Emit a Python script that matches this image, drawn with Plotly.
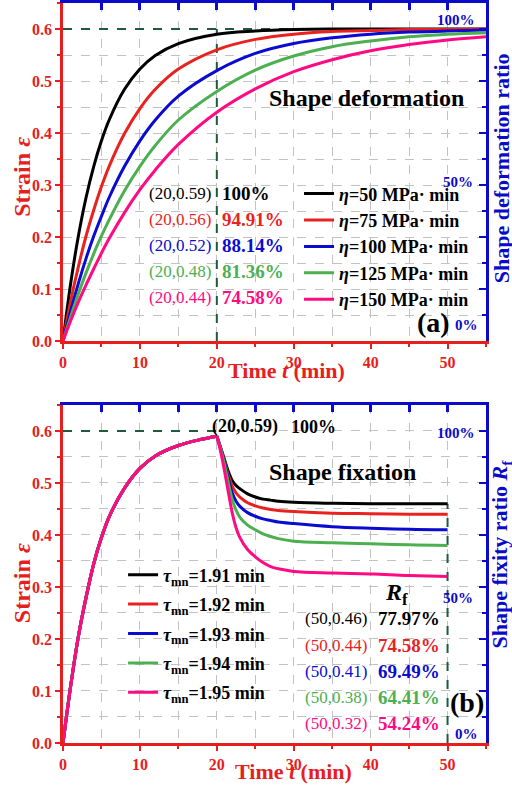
import plotly.graph_objects as go

FONT = "Liberation Serif, Times New Roman, serif"
AX_RED = "#e61e1e"
AX_BLUE = "#0a0ac8"
GRID = "#c2c2c2"
REF = "#1d5b3b"
COLORS = ["#000000", "#e8231f", "#0a0ad0", "#4caf50", "#ff0a82"]

# ---------------- (a) shape deformation: creep for five viscosities ----------------
t_a = [0, 1, 2, 3, 4, 5, 6, 8, 10, 12, 15, 20, 25, 30, 35, 40, 45, 50, 55]
eta_names = ["50", "75", "100", "125", "150"]
strain_eta50 = [0, 0.111, 0.202, 0.276, 0.336, 0.385, 0.425, 0.484, 0.523, 0.549,
                0.572, 0.590, 0.596, 0.599, 0.600, 0.600, 0.600, 0.600, 0.600]
strain_eta75 = [0, 0.077, 0.143, 0.202, 0.252, 0.297, 0.336, 0.399, 0.447, 0.484,
                0.523, 0.560, 0.580, 0.590, 0.595, 0.597, 0.599, 0.599, 0.600]
strain_eta100 = [0, 0.058, 0.111, 0.159, 0.202, 0.240, 0.276, 0.336, 0.385, 0.425,
                 0.471, 0.520, 0.553, 0.572, 0.583, 0.590, 0.594, 0.596, 0.598]
strain_eta125 = [0, 0.047, 0.091, 0.131, 0.168, 0.202, 0.233, 0.289, 0.336, 0.376,
                 0.425, 0.480, 0.521, 0.548, 0.566, 0.577, 0.585, 0.590, 0.593]
strain_eta150 = [0, 0.039, 0.075, 0.108, 0.139, 0.169, 0.197, 0.247, 0.291, 0.329,
                 0.378, 0.440, 0.485, 0.518, 0.541, 0.558, 0.570, 0.579, 0.585]
curves_a = [strain_eta50, strain_eta75, strain_eta100, strain_eta125, strain_eta150]
coord_a = ["(20,0.59)", "(20,0.56)", "(20,0.52)", "(20,0.48)", "(20,0.44)"]
ratio_a = ["100%", "94.91%", "88.14%", "81.36%", "74.58%"]

# ---------------- (b) shape fixation: loading then unloading ----------------
t_load = [0, 1, 2, 3, 4, 5, 6, 8, 10, 12, 15, 18, 20]
strain_load = [0, 0.110, 0.205, 0.280, 0.345, 0.395, 0.435, 0.490, 0.528, 0.552,
               0.572, 0.584, 0.590]
t_unload = [20, 20.5, 21, 21.5, 22, 22.5, 23, 24, 25, 26, 27, 28, 30, 35, 40, 45, 50]
tau_names = ["1.91", "1.92", "1.93", "1.94", "1.95"]
strain_tau191 = [0.59, 0.568, 0.545, 0.522, 0.505, 0.495, 0.489, 0.479, 0.473, 0.469,
                 0.467, 0.465, 0.463, 0.461, 0.460, 0.460, 0.460]
strain_tau192 = [0.59, 0.567, 0.542, 0.515, 0.494, 0.481, 0.473, 0.462, 0.456, 0.452,
                 0.449, 0.447, 0.445, 0.442, 0.441, 0.440, 0.440]
strain_tau193 = [0.59, 0.566, 0.539, 0.508, 0.481, 0.465, 0.455, 0.443, 0.436, 0.431,
                 0.428, 0.425, 0.422, 0.416, 0.413, 0.411, 0.410]
strain_tau194 = [0.59, 0.565, 0.535, 0.500, 0.468, 0.448, 0.434, 0.419, 0.410, 0.402,
                 0.397, 0.393, 0.388, 0.385, 0.383, 0.381, 0.380]
strain_tau195 = [0.59, 0.560, 0.523, 0.482, 0.443, 0.414, 0.395, 0.372, 0.358, 0.347,
                 0.339, 0.335, 0.330, 0.327, 0.325, 0.322, 0.320]
curves_b = [strain_tau191, strain_tau192, strain_tau193, strain_tau194, strain_tau195]
coord_b = ["(50,0.46)", "(50,0.44)", "(50,0.41)", "(50,0.38)", "(50,0.32)"]
ratio_b = ["77.97%", "74.58%", "69.49%", "64.41%", "54.24%"]

T_SWITCH = 20
T_END = 50
STRAIN_MAX = 0.6
X_RANGE = [0, 55]
Y_RANGE = [0, 0.65]

fig = go.Figure()

# reference dashed lines (a)
fig.add_trace(go.Scatter(x=[0, X_RANGE[1]], y=[STRAIN_MAX, STRAIN_MAX], mode="lines",
                         line=dict(color=REF, width=2, dash="dash"), showlegend=False,
                         xaxis="x", yaxis="y"))
fig.add_trace(go.Scatter(x=[T_SWITCH, T_SWITCH], y=[0, STRAIN_MAX], mode="lines",
                         line=dict(color=REF, width=2, dash="dash"), showlegend=False,
                         xaxis="x", yaxis="y"))
for i, ys in enumerate(curves_a):
    fig.add_trace(go.Scatter(
        x=t_a, y=ys, mode="lines", line=dict(color=COLORS[i], width=3, shape="spline"),
        name=f"<i>η</i>=" + eta_names[i] + " MPa· min", legend="legend",
        legendgroup=f"a{i}", xaxis="x", yaxis="y"))

# reference dashed lines (b)
fig.add_trace(go.Scatter(x=[0, T_SWITCH], y=[STRAIN_MAX, STRAIN_MAX], mode="lines",
                         line=dict(color=REF, width=2, dash="dash"), showlegend=False,
                         xaxis="x3", yaxis="y3"))
fig.add_trace(go.Scatter(x=[T_END, T_END], y=[0, curves_b[0][-1]], mode="lines",
                         line=dict(color=REF, width=2, dash="dash"), showlegend=False,
                         xaxis="x3", yaxis="y3"))
for i, ys in enumerate(curves_b):
    fig.add_trace(go.Scatter(
        x=t_load, y=strain_load, mode="lines",
        line=dict(color=COLORS[i], width=3, shape="spline"), showlegend=False,
        legendgroup=f"b{i}", xaxis="x3", yaxis="y3"))
    fig.add_trace(go.Scatter(
        x=t_unload, y=ys, mode="lines", line=dict(color=COLORS[i], width=3, shape="spline"),
        name="<i>τ</i><sub>mn</sub>=" + tau_names[i] + " min", legend="legend2",
        legendgroup=f"b{i}", xaxis="x3", yaxis="y3"))

# empty traces so the mirror axes are drawn
for xa, ya in [("x2", "y2"), ("x4", "y4")]:
    fig.add_trace(go.Scatter(x=[None], y=[None], xaxis=xa, yaxis=ya, showlegend=False))

tickfont_red = dict(family=FONT, size=16, color=AX_RED, weight="bold")


def bottom_x(anchor):
    return dict(range=X_RANGE, anchor=anchor, tickvals=[0, 10, 20, 30, 40, 50],
                ticks="outside", ticklen=5, tickwidth=2, tickcolor=AX_RED,
                showline=True, linecolor=AX_RED, linewidth=2.5, zeroline=False,
                showgrid=True, gridcolor=GRID, griddash="dash", gridwidth=1,
                minor=dict(dtick=5, ticks="outside", ticklen=3, tickwidth=2,
                           tickcolor=AX_RED, showgrid=True, gridcolor=GRID,
                           griddash="dash", gridwidth=1),
                tickfont=tickfont_red, fixedrange=True)


def left_y(anchor, domain):
    return dict(range=Y_RANGE, anchor=anchor, domain=domain, dtick=0.1, tick0=0,
                tickformat=".1f", ticks="outside", ticklen=5, tickwidth=2,
                tickcolor=AX_RED, showline=True, linecolor=AX_RED, linewidth=2.5,
                zeroline=False, showgrid=True, gridcolor=GRID, griddash="dash",
                gridwidth=1,
                minor=dict(dtick=0.05, ticks="outside", ticklen=3, tickwidth=2,
                           tickcolor=AX_RED, showgrid=True, gridcolor=GRID,
                           griddash="dash", gridwidth=1),
                tickfont=tickfont_red, fixedrange=True)


def top_x(over, anchor):
    return dict(range=X_RANGE, overlaying=over, anchor=anchor, side="top", dtick=5,
                tick0=0, ticks="inside", ticklen=7, tickwidth=2.5, tickcolor=AX_BLUE,
                showline=True, linecolor=AX_BLUE, linewidth=2.5, showticklabels=False,
                showgrid=False, zeroline=False, fixedrange=True)


def right_y(over, anchor):
    return dict(range=Y_RANGE, overlaying=over, anchor=anchor, side="right",
                dtick=0.1, tick0=0, ticks="inside", ticklen=7, tickwidth=2,
                tickcolor=AX_BLUE, showline=True, linecolor=AX_BLUE, linewidth=2.5,
                showticklabels=False, showgrid=False, zeroline=False,
                minor=dict(dtick=0.05, ticks="inside", ticklen=4, tickwidth=2,
                           tickcolor=AX_BLUE, showgrid=False),
                fixedrange=True)


DOM_A = [0.5432, 1.0]
DOM_B = [0.0, 0.4568]

annotations = []


def note(text, x, y, ref, color="black", size=16, xanchor="center", bold=True):
    xr, yr = ref
    annotations.append(dict(
        text=(f"<b>{text}</b>" if bold else text), x=x, y=y, xref=xr, yref=yr,
        xanchor=xanchor, yanchor="middle", showarrow=False,
        font=dict(family=FONT, size=size, color=color)))


# panel (a) texts
rows_a = [0.284, 0.234, 0.183, 0.133, 0.083]
for i in range(5):
    note(coord_a[i], 19.5, rows_a[i], ("x", "y"), COLORS[i], 17, "right", bold=False)
    note(ratio_a[i], 20.4, rows_a[i], ("x", "y"), COLORS[i], 19, "left")
note("Shape deformation", 39.5, 0.467, ("x", "y"), size=24)
note("(a)", 48.2, 0.035, ("x", "y"), size=28)
note("100%", 53.8, 0.617, ("x", "y"), AX_BLUE, 15, "right")
note("50%", 53.6, 0.306, ("x", "y"), AX_BLUE, 15, "right")
note("0%", 54.2, 0.031, ("x", "y"), AX_BLUE, 15, "right")

# panel (b) texts
rows_b = [0.240, 0.188, 0.138, 0.088, 0.038]
for i in range(5):
    note(coord_b[i], 39.8, rows_b[i], ("x3", "y3"), COLORS[i], 17, "right", bold=False)
    note(ratio_b[i], 40.7, rows_b[i], ("x3", "y3"), COLORS[i], 19, "left")
note("(20,0.59)", 19.1, 0.608, ("x3", "y3"), size=18, xanchor="left")
note("100%", 29.4, 0.608, ("x3", "y3"), size=18, xanchor="left")
note("Shape fixation", 36.3, 0.521, ("x3", "y3"), size=24)
note("<i>R</i><sub>f</sub>", 43.3, 0.287, ("x3", "y3"), size=24)
note("(b)", 52.5, 0.077, ("x3", "y3"), size=28)
note("100%", 53.8, 0.596, ("x3", "y3"), AX_BLUE, 15, "right")
note("50%", 53.6, 0.279, ("x3", "y3"), AX_BLUE, 15, "right")
note("0%", 54.2, 0.017, ("x3", "y3"), AX_BLUE, 15, "right")

# axis titles
for yc in (0.765, 0.216):
    annotations.append(dict(text="<b>Strain <i>ε</i></b>", x=-0.097, y=yc, xref="paper",
                            yref="paper", textangle=-90, showarrow=False,
                            xanchor="center", yanchor="middle",
                            font=dict(family=FONT, size=24, color=AX_RED)))
annotations.append(dict(text="<b>Shape deformation ratio</b>", x=1.036, y=0.777,
                        xref="paper", yref="paper", textangle=-90, showarrow=False,
                        xanchor="center", yanchor="middle",
                        font=dict(family=FONT, size=22, color=AX_BLUE)))
annotations.append(dict(text="<b>Shape fixity ratio <i>R</i><sub>f</sub></b>", x=1.036,
                        y=0.255, xref="paper", yref="paper", textangle=-90,
                        showarrow=False, xanchor="center", yanchor="middle",
                        font=dict(family=FONT, size=22, color=AX_BLUE)))
for xc, yc in ((0.528, 0.503), (0.545, -0.039)):
    annotations.append(dict(text="<b>Time <i>t</i> (min)</b>", x=xc, y=yc, xref="paper",
                            yref="paper", showarrow=False, xanchor="center",
                            yanchor="middle",
                            font=dict(family=FONT, size=22, color=AX_RED)))

fig.update_layout(
    width=512, height=789,
    margin=dict(l=63, r=26, t=3, b=46),
    paper_bgcolor="white", plot_bgcolor="white",
    xaxis=bottom_x("y"),
    yaxis=left_y("x", DOM_A),
    xaxis2=top_x("x", "y"),
    yaxis2=right_y("y", "x"),
    xaxis3=bottom_x("y3"),
    yaxis3=left_y("x3", DOM_B),
    xaxis4=top_x("x3", "y3"),
    yaxis4=right_y("y3", "x3"),
    legend=dict(x=0.558, y=0.767, xanchor="left", yanchor="top", bgcolor="rgba(0,0,0,0)",
                font=dict(family=FONT, size=18, color="black", weight="bold"),
                tracegroupgap=0, itemwidth=30),
    legend2=dict(x=0.142, y=0.252, xanchor="left", yanchor="top",
                 bgcolor="rgba(0,0,0,0)",
                 font=dict(family=FONT, size=18, color="black", weight="bold"),
                 tracegroupgap=3, itemwidth=30),
    annotations=annotations,
    showlegend=True,
)

fig.write_html("out.html")
